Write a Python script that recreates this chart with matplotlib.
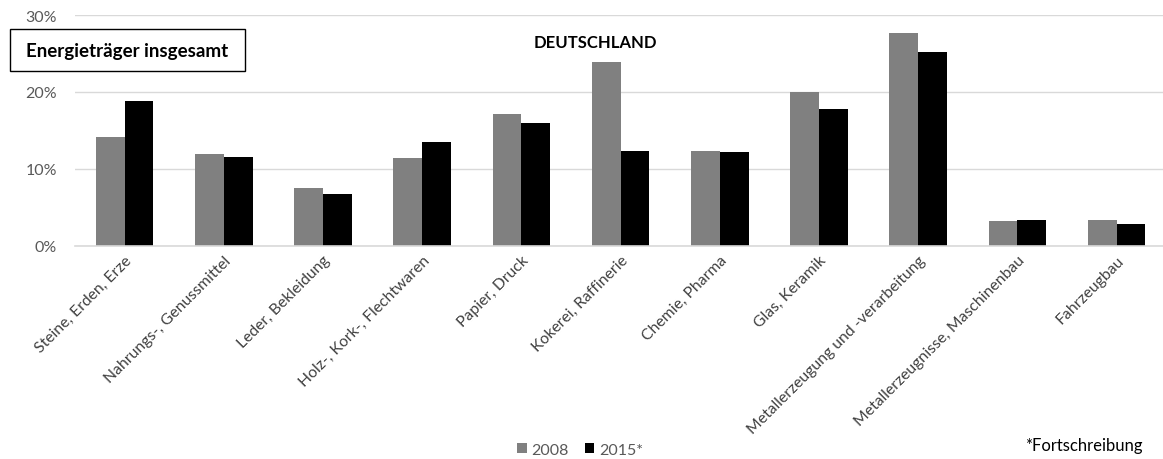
import matplotlib
matplotlib.use("Agg")
import matplotlib.pyplot as plt
import numpy as np
from matplotlib.patches import Patch, Rectangle

categories = ["Steine, Erden, Erze", "Nahrungs-, Genussmittel", "Leder, Bekleidung",
              "Holz-, Kork-, Flechtwaren", "Papier, Druck", "Kokerei, Raffinerie",
              "Chemie, Pharma", "Glas, Keramik", "Metallerzeugung und -verarbeitung",
              "Metallerzeugnisse, Maschinenbau", "Fahrzeugbau"]
v2008 = [14.2, 11.9, 7.5, 11.4, 17.1, 23.9, 12.4, 20.0, 27.7, 3.2, 3.4]
v2015 = [18.8, 11.5, 6.7, 13.5, 16.0, 12.4, 12.2, 17.8, 25.2, 3.4, 2.8]
series_labels = ["2008", "2015*"]
yticks = [0, 10, 20, 30]
ytick_labels = ["0%", "10%", "20%", "30%"]

plt.rcParams['font.family'] = ['Lato', 'DejaVu Sans']

W, H = 1163, 460
fig = plt.figure(figsize=(W/100, H/100), dpi=100)
left = 75 / W
bottom = 1 - 247 / H
top = 1 - 16 / H
ax = fig.add_axes([left, bottom, 1 - left, top - bottom])

x = np.arange(len(categories))
bw = 0.29
ax.bar(x - bw/2, v2008, bw, color="#808080", zorder=3)
ax.bar(x + bw/2, v2015, bw, color="#000000", zorder=3)

spacing = 99.2
ax.set_xlim(-0.5, -0.5 + (W - 75) / spacing)
ax.set_ylim(0, 30)
ax.set_yticks(yticks)
ax.set_yticklabels(ytick_labels, fontsize=11.5, color="#595959")
ax.tick_params(axis='y', length=0, pad=13)
ax.tick_params(axis='x', length=0, pad=5)
ax.set_xticks(x)
ax.set_xticklabels(categories, rotation=45, ha='right', rotation_mode='anchor',
                   fontsize=11.3, color="#404040")
ax.grid(axis='y', color="#d9d9d9", linewidth=1, zorder=0)
for s in ["top", "right", "left"]:
    ax.spines[s].set_visible(False)
ax.spines["bottom"].set_color("#d9d9d9")
ax.spines["bottom"].set_linewidth(1.2)
ax.spines["bottom"].set_zorder(4)

fig.text(595 / W, 1 - 43 / H, "DEUTSCHLAND", fontsize=12, fontweight='bold',
         ha='center', va='center', color="#000000")
box = Rectangle((10 / W, 1 - 72 / H), 235 / W, 42 / H, transform=fig.transFigure,
                facecolor='white', edgecolor='black', linewidth=1, zorder=5)
fig.add_artist(box)
fig.text(127 / W, 1 - 51 / H, "Energieträger insgesamt", fontsize=13.5, fontweight='bold',
         ha='center', va='center', color="#000000", zorder=6)

handles = [Patch(facecolor="#808080"), Patch(facecolor="#000000")]
fig.legend(handles, series_labels, loc='center', bbox_to_anchor=(580 / W, 1 - 451 / H),
           ncol=2, frameon=False, fontsize=11.5, handlelength=0.6, handleheight=0.6,
           handletextpad=0.3, columnspacing=1.0, labelcolor="#595959")
fig.text(1143 / W, 1 - 446 / H, "*Fortschreibung", fontsize=12, ha='right', va='center',
         color="#000000")

fig.savefig("out.png", dpi=100)
